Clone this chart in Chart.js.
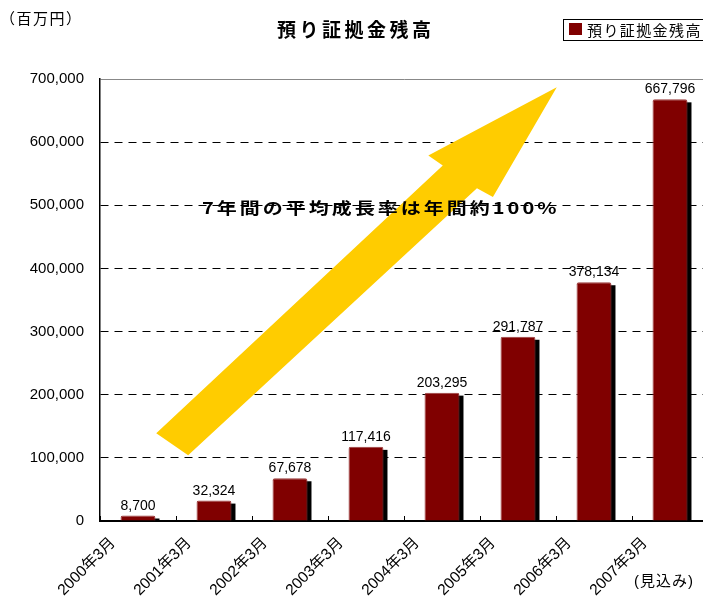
<!DOCTYPE html>
<html>
<head>
<meta charset="utf-8">
<script src="https://cdn.jsdelivr.net/npm/chart.js@4"></script>
<style>
  html, body { margin: 0; padding: 0; overflow: hidden; background: #fff; }
  #wrap { width: 712px; height: 596px; }
</style>
</head>
<body>
<div id="wrap"><canvas id="chart" width="712" height="596"></canvas></div>
<script>
// --- datos ---
const categories = ['2000年3月', '2001年3月', '2002年3月', '2003年3月', '2004年3月', '2005年3月', '2006年3月', '2007年3月'];
const balances = [8700, 32324, 67678, 117416, 203295, 291787, 378134, 667796];
const yTicks = [0, 100000, 200000, 300000, 400000, 500000, 600000, 700000];
const seriesName = '預り証拠金残高';
const unitLabel = '（百万円）';
const forecastLabel = '(見込み)';
const growthNote = '7年間の平均成長率は年間約100%';
// flecha amarilla, en unidades de los ejes (posición de categoría, valor)
const arrowX = [0.24, 4.01, 3.82, 5.51, 4.67, 4.46, 0.66];
const arrowY = [139000, 563000, 579000, 687000, 513000, 527000, 104000];

const JP = "'Noto Sans CJK JP'";
const NUM = "'Liberation Sans', Arial";
const fmt = v => v.toLocaleString('en-US');

const decor = {
    id: 'decor',
    beforeDatasetsDraw(chart) {
        const { ctx, scales: { x, y } } = chart;
        ctx.save();
        // flecha
        ctx.beginPath();
        arrowX.forEach((v, i) => {
            const px = x.getPixelForValue(v), py = y.getPixelForValue(arrowY[i]);
            if (i) ctx.lineTo(px, py); else ctx.moveTo(px, py);
        });
        ctx.closePath();
        ctx.fillStyle = '#ffcc00';
        ctx.fill();
        // sombra de las barras
        ctx.fillStyle = '#000';
        chart.getDatasetMeta(0).data.forEach(bar => {
            ctx.fillRect(bar.x - bar.width / 2 + 4, bar.y + 3, bar.width, bar.base - bar.y - 3);
        });
        ctx.restore();
    },
    afterDatasetsDraw(chart) {
        const { ctx } = chart;
        ctx.save();
        ctx.font = '14px ' + NUM;
        ctx.fillStyle = '#000';
        ctx.textAlign = 'center';
        ctx.textBaseline = 'alphabetic';
        chart.getDatasetMeta(0).data.forEach((bar, i) => {
            ctx.fillText(fmt(balances[i]), bar.x, bar.y - 6);
        });
        ctx.restore();
    },
    afterDraw(chart) {
        const { ctx } = chart;
        ctx.save();
        ctx.fillStyle = '#000';
        ctx.textBaseline = 'middle';
        ctx.textAlign = 'left';

        // unidad
        ctx.font = '15px ' + JP;
        ctx.letterSpacing = '1.5px';
        ctx.fillText(unitLabel, 0, 18);

        // título
        ctx.font = 'bold 19px ' + JP;
        ctx.letterSpacing = '3.5px';
        ctx.fillText(seriesName, 277, 30);

        // leyenda
        ctx.letterSpacing = '0px';
        ctx.strokeStyle = '#000';
        ctx.lineWidth = 1;
        ctx.strokeRect(563.5, 19.5, 160, 21);
        ctx.fillStyle = '#800000';
        ctx.fillRect(569, 23, 13, 12);
        ctx.fillStyle = '#000';
        ctx.font = '15px ' + JP;
        ctx.letterSpacing = '1.4px';
        ctx.fillText(seriesName, 587, 30.5);

        // (見込み)
        ctx.font = "15px 'Liberation Sans', " + JP;
        ctx.letterSpacing = '1px';
        ctx.fillText(forecastLabel, 634, 582);

        // comentario sobre la flecha
        ctx.font = 'bold 20px ' + JP;
        ctx.letterSpacing = '3px';
        ctx.translate(202, 208);
        ctx.scale(1, 0.8);
        ctx.fillText(growthNote, 0, 0);
        ctx.restore();
    }
};

new Chart(document.getElementById('chart'), {
    type: 'bar',
    data: {
        labels: categories,
        datasets: [{
            label: seriesName,
            data: balances,
            backgroundColor: '#800000',
            borderColor: '#9c3c3c',
            borderWidth: 1,
            borderSkipped: 'bottom',
            borderRadius: { topLeft: 2, topRight: 2 },
            barPercentage: 0.46,
            categoryPercentage: 1
        }]
    },
    options: {
        responsive: false,
        animation: false,
        layout: { padding: { top: 79, right: 4, left: 0, bottom: 0 } },
        scales: {
            x: {
                grid: { drawOnChartArea: false, tickLength: -5, color: '#000', offset: true },
                border: { color: '#000', width: 2 },
                ticks: {
                    autoSkip: false, minRotation: 45, maxRotation: 45,
                    labelOffset: -25, padding: 18, color: '#000',
                    font: { family: "'Liberation Sans', 'Noto Sans CJK JP'", size: 15.5 }
                },
                afterFit: s => { s.height = 75; }
            },
            y: {
                min: 0, max: yTicks[yTicks.length - 1],
                afterBuildTicks: s => { s.ticks = yTicks.map(v => ({ value: v })); },
                ticks: { padding: 16, color: '#000', font: { family: NUM, size: 15 }, callback: v => fmt(v) },
                grid: {
                    drawTicks: false, lineWidth: 1,
                    color: c => c.tick.value === 0 ? 'rgba(0,0,0,0)' : (c.tick.value === 700000 ? '#888' : '#000')
                },
                border: { color: '#000', width: 1.5, dash: c => (c.tick && c.tick.value === 700000) ? [] : [8, 6] },
                afterFit: s => { s.width = 100; }
            }
        },
        plugins: { legend: { display: false }, title: { display: false }, tooltip: { enabled: false } }
    },
    plugins: [decor]
});
</script>
</body>
</html>
